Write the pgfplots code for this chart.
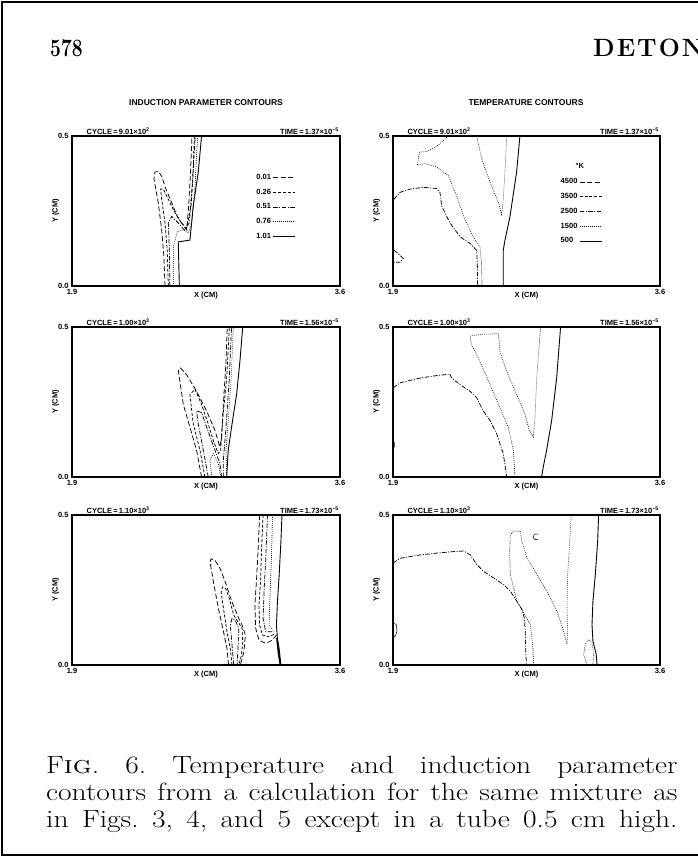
\documentclass[border=0pt]{standalone}
\usepackage{fontspec}
\usepackage{pgfplots}
\pgfplotsset{compat=1.18}
\newfontfamily\plotfont{Liberation Sans}
\newcommand{\pf}[1]{\plotfont\bfseries\fontsize{#1}{#1}\selectfont}
\pgfplotsset{
 panel/.style={
  scale only axis, width=268pt, height=150pt, anchor=south west,
  xmin=1.9, xmax=3.6, ymin=0, ymax=0.5,
  xtick={1.9,3.6}, xticklabels={1.9,3.6},
  ytick={0,0.5}, yticklabels={0.0,0.5},
  major tick length=0pt,
  axis line style={line width=1.2pt},
  tick label style={font=\pf{7.5}},
  xlabel={X (CM)}, ylabel={Y (CM)},
  label style={font=\pf{7.5}},
  xlabel style={at={(axis description cs:0.5,0)}, anchor=north, yshift=-3pt},
  ylabel style={at={(axis description cs:-0.035,0.5)}, anchor=south},
  clip=false,
  legend plot pos=right, legend cell align=left,
  legend image code/.code={\draw[##1] (0pt,0pt) -- (22pt,0pt);},
  legend style={draw=none, fill=none, inner sep=0pt, row sep=4pt, font=\pf{7.5}},
 },
 lA/.style={black, line width=0.75pt, dash pattern=on 5pt off 2.5pt},
 lB/.style={black, line width=0.75pt, dash pattern=on 3pt off 1.8pt},
 lC/.style={black, line width=0.75pt, dash pattern=on 4.5pt off 1.5pt on 1pt off 1.5pt},
 lD/.style={black, line width=0.6pt, dash pattern=on 0.8pt off 1.2pt},
 lE/.style={black, line width=0.9pt},
}
\begin{document}
\begin{tikzpicture}
\useasboundingbox (0pt,0pt) rectangle (698pt,857pt);
\begin{scope}
\clip (0pt,0pt) rectangle (698pt,857pt);
\fill[white] (0pt,0pt) rectangle (698pt,857pt);
\draw[line width=1.6pt] (698pt,855pt) -- (2pt,855pt) -- (2pt,2pt) -- (698pt,2pt);
\node[anchor=base west, inner sep=0pt, font=\bfseries\fontsize{25}{25}\selectfont] at (50pt,800pt) {\scalebox{0.77}[1]{578}};
\node[anchor=base west, inner sep=0pt, font=\bfseries\fontsize{25}{25}\selectfont] at (593pt,800pt) {D\kern2pt E\kern2pt T\kern2pt O\kern2pt N};
\node[font=\pf{8.5}] at (206pt,754pt) {INDUCTION PARAMETER CONTOURS};
\node[font=\pf{8.5}] at (526pt,754pt) {TEMPERATURE CONTOURS};

% ---------- Row 1 left ----------
\begin{axis}[panel, at={(72pt,571pt)},
  legend style={at={(0.68,0.76)}, anchor=north west}]
\addlegendimage{lA}\addlegendentry{0.01}
\addlegendimage{lB}\addlegendentry{0.26}
\addlegendimage{lC}\addlegendentry{0.51}
\addlegendimage{lD}\addlegendentry{0.76}
\addlegendimage{lE}\addlegendentry{1.01}
\addplot[lE, forget plot] coordinates {(2.722,0.5)(2.701,0.380)(2.669,0.266)(2.648,0.153)(2.574,0.147)(2.581,0)};
\addplot[lA, forget plot] coordinates {(2.490,0)(2.483,0.096)(2.469,0.187)(2.447,0.278)(2.420,0.357)(2.426,0.380)(2.447,0.382)(2.469,0.366)(2.496,0.323)(2.532,0.278)(2.568,0.232)(2.602,0.204)(2.627,0.187)(2.640,0.266)(2.652,0.380)(2.661,0.5)};
\addplot[lB, forget plot] coordinates {(2.511,0)(2.504,0.119)(2.490,0.210)(2.469,0.289)(2.462,0.323)(2.479,0.323)(2.511,0.289)(2.553,0.244)(2.595,0.210)(2.627,0.193)(2.655,0.266)(2.669,0.380)(2.676,0.5)};
\addplot[lC, forget plot] coordinates {(2.521,0)(2.517,0.130)(2.511,0.210)(2.532,0.232)(2.574,0.210)(2.612,0.187)(2.644,0.210)(2.661,0.323)(2.674,0.437)(2.682,0.5)};
\addplot[lD, forget plot] coordinates {(2.543,0)(2.543,0.130)(2.568,0.181)(2.606,0.187)(2.638,0.176)(2.659,0.210)(2.680,0.323)(2.690,0.437)(2.697,0.5)};
\node[anchor=south west, font=\pf{7.5}, inner sep=1pt] at (rel axis cs:0.05,1) {CYCLE\,=\,9.01×10\textsuperscript{2}};
\node[anchor=south east, font=\pf{7.5}, inner sep=1pt] at (rel axis cs:1,1) {TIME\,=\,1.37×10\textsuperscript{−5}};
\end{axis}

% ---------- Row 1 right ----------
\begin{axis}[panel, at={(393pt,571pt)}, width=267pt,
  legend style={at={(0.62,0.73)}, anchor=north west}]
\addlegendimage{lA}\addlegendentry{4500}
\addlegendimage{lB}\addlegendentry{3500}
\addlegendimage{lC}\addlegendentry{2500}
\addlegendimage{lD}\addlegendentry{1500}
\addlegendimage{lE}\addlegendentry{500}
\addplot[lE, forget plot] coordinates {(2.708,0.5)(2.687,0.380)(2.645,0.232)(2.613,0.153)(2.602,0.119)(2.602,0)};
\addplot[lC, forget plot] coordinates {(1.906,0.289)(1.944,0.312)(2.008,0.323)(2.093,0.329)(2.178,0.325)(2.199,0.312)(2.210,0.266)(2.263,0.210)(2.327,0.164)(2.390,0.142)(2.433,0.119)(2.437,0.074)(2.439,0)};
\addplot[lD, forget plot] coordinates {(2.252,0.5)(2.178,0.465)(2.114,0.448)(2.068,0.446)(2.055,0.402)(2.104,0.408)(2.178,0.397)(2.252,0.368)(2.305,0.300)(2.358,0.221)(2.411,0.164)(2.454,0.130)(2.464,0.074)(2.467,0)};
\addplot[lD, forget plot] coordinates {(2.433,0.5)(2.464,0.425)(2.518,0.346)(2.571,0.278)(2.592,0.238)(2.602,0.289)(2.613,0.380)(2.624,0.5)};
\addplot[lC, forget plot] coordinates {(1.906,0.119)(1.934,0.108)(1.966,0.091)(1.944,0.079)(1.906,0.079)};
\node[font=\pf{7.5}] at (rel axis cs:0.70,0.80) {°K};
\node[anchor=south west, font=\pf{7.5}, inner sep=1pt] at (rel axis cs:0.05,1) {CYCLE\,=\,9.01×10\textsuperscript{2}};
\node[anchor=south east, font=\pf{7.5}, inner sep=1pt] at (rel axis cs:1,1) {TIME\,=\,1.37×10\textsuperscript{−5}};
\end{axis}

% ---------- Row 2 left ----------
\begin{axis}[panel, at={(72pt,380pt)}]
\addplot[lE] coordinates {(2.983,0.5)(2.965,0.385)(2.944,0.275)(2.912,0.166)(2.891,0.089)(2.881,0)};
\addplot[lA] coordinates {(2.722,0)(2.690,0.089)(2.648,0.166)(2.606,0.242)(2.574,0.357)(2.589,0.363)(2.627,0.341)(2.690,0.286)(2.754,0.220)(2.807,0.155)(2.838,0.100)(2.849,0.133)(2.860,0.242)(2.877,0.385)(2.885,0.5)};
\addplot[lB] coordinates {(2.743,0)(2.712,0.089)(2.669,0.177)(2.648,0.275)(2.680,0.292)(2.722,0.242)(2.764,0.177)(2.796,0.122)(2.828,0.078)(2.843,0.089)(2.855,0.188)(2.881,0.330)(2.898,0.5)};
\addplot[lC] coordinates {(2.764,0)(2.733,0.089)(2.701,0.177)(2.690,0.220)(2.722,0.215)(2.754,0.166)(2.792,0.111)(2.838,0.045)(2.849,0)};
\addplot[lC] coordinates {(2.860,0)(2.860,0.056)(2.877,0.166)(2.898,0.330)(2.912,0.5)};
\addplot[lD] coordinates {(2.786,0)(2.775,0.056)(2.796,0.078)(2.828,0.045)(2.845,0)};
\addplot[lD] coordinates {(2.881,0)(2.877,0.089)(2.891,0.188)(2.910,0.330)(2.923,0.5)};
\node[anchor=south west, font=\pf{7.5}, inner sep=1pt] at (rel axis cs:0.05,1) {CYCLE\,=\,1.00×10\textsuperscript{3}};
\node[anchor=south east, font=\pf{7.5}, inner sep=1pt] at (rel axis cs:1,1) {TIME\,=\,1.56×10\textsuperscript{−5}};
\end{axis}

% ---------- Row 2 right ----------
\begin{axis}[panel, at={(393pt,380pt)}, width=267pt]
\addplot[lE] coordinates {(2.967,0.5)(2.942,0.330)(2.910,0.188)(2.878,0.089)(2.857,0.034)(2.846,0)};
\addplot[lC] coordinates {(1.9,0.297)(1.945,0.314)(2.072,0.330)(2.178,0.338)(2.263,0.343)(2.273,0.330)(2.327,0.308)(2.390,0.286)(2.433,0.264)(2.475,0.220)(2.518,0.188)(2.560,0.144)(2.581,0.111)(2.602,0.078)(2.624,0)};
\addplot[lD] coordinates {(2.677,0)(2.666,0.089)(2.634,0.166)(2.581,0.231)(2.518,0.308)(2.454,0.385)(2.401,0.440)(2.390,0.470)(2.454,0.475)(2.571,0.478)(2.581,0.418)(2.624,0.352)(2.687,0.275)(2.740,0.210)(2.768,0.155)(2.793,0.133)(2.804,0.199)(2.815,0.330)(2.829,0.429)(2.840,0.5)};
\addplot[lE, line width=0.5pt] coordinates {(1.9,0.122)(1.908,0.115)(1.908,0.100)(1.9,0.095)};
\node[anchor=south west, font=\pf{7.5}, inner sep=1pt] at (rel axis cs:0.05,1) {CYCLE\,=\,1.00×10\textsuperscript{3}};
\node[anchor=south east, font=\pf{7.5}, inner sep=1pt] at (rel axis cs:1,1) {TIME\,=\,1.56×10\textsuperscript{−5}};
\end{axis}

% ---------- Row 3 left ----------
\begin{axis}[panel, at={(72pt,192pt)}]
\addplot[lE] coordinates {(3.232,0.5)(3.225,0.409)(3.214,0.299)(3.203,0.210)(3.197,0.133)(3.203,0.088)(3.214,0.055)(3.225,0)};
\addplot[lA] coordinates {(3.090,0.5)(3.082,0.398)(3.071,0.288)(3.060,0.199)(3.065,0.122)(3.086,0.083)(3.129,0.072)(3.172,0.083)(3.197,0.100)};
\addplot[lB] coordinates {(3.112,0.5)(3.103,0.398)(3.097,0.288)(3.086,0.199)(3.090,0.133)(3.108,0.100)(3.150,0.094)(3.189,0.105)};
\addplot[lC] coordinates {(3.140,0.5)(3.129,0.354)(3.118,0.243)(3.112,0.155)(3.129,0.111)(3.182,0.111)};
\addplot[lD] coordinates {(3.172,0.5)(3.165,0.354)(3.155,0.221)(3.150,0.133)(3.172,0.116)};
\addplot[lA] coordinates {(2.893,0)(2.883,0.055)(2.861,0.111)(2.829,0.188)(2.797,0.277)(2.776,0.343)(2.782,0.354)(2.808,0.348)(2.840,0.321)(2.872,0.277)(2.915,0.210)(2.958,0.155)(2.979,0.133)(3.000,0.100)(2.990,0.044)(2.968,0)};
\addplot[lB] coordinates {(2.915,0)(2.904,0.055)(2.883,0.111)(2.861,0.188)(2.846,0.243)(2.855,0.260)(2.876,0.254)(2.898,0.221)(2.926,0.166)(2.953,0.144)(2.979,0.122)(2.983,0.077)(2.975,0.033)(2.958,0)};
\addplot[lC] coordinates {(2.926,0)(2.915,0.066)(2.904,0.133)(2.915,0.155)(2.936,0.149)(2.958,0.122)(2.953,0.055)(2.947,0)};
\addplot[lE, line width=1.6pt] coordinates {(3.200,0.09)(3.210,0.04)(3.222,0)};
\node[anchor=south west, font=\pf{7.5}, inner sep=1pt] at (rel axis cs:0.05,1) {CYCLE\,=\,1.10×10\textsuperscript{3}};
\node[anchor=south east, font=\pf{7.5}, inner sep=1pt] at (rel axis cs:1,1) {TIME\,=\,1.73×10\textsuperscript{−5}};
\end{axis}

% ---------- Row 3 right ----------
\begin{axis}[panel, at={(393pt,192pt)}, width=267pt]
\addplot[lE] coordinates {(3.209,0.5)(3.203,0.411)(3.188,0.301)(3.173,0.212)(3.167,0.135)(3.173,0.080)(3.194,0.035)(3.199,0)};
\addplot[lC] coordinates {(1.9,0.340)(1.947,0.356)(2.074,0.367)(2.180,0.373)(2.286,0.378)(2.350,0.380)(2.392,0.367)(2.435,0.334)(2.477,0.312)(2.541,0.290)(2.605,0.268)(2.647,0.246)(2.689,0.212)(2.721,0.185)(2.736,0.157)(2.742,0.113)(2.745,0.058)(2.749,0)};
\addplot[lD] coordinates {(2.795,0)(2.791,0.058)(2.774,0.135)(2.689,0.212)(2.647,0.301)(2.643,0.378)(2.647,0.434)(2.668,0.447)(2.711,0.445)(2.721,0.411)(2.753,0.356)(2.817,0.301)(2.880,0.246)(2.944,0.179)(2.986,0.113)(3.008,0.069)(3.012,0.113)(3.008,0.190)(3.012,0.301)(3.025,0.411)(3.035,0.5)};
\addplot[lE, line width=0.5pt] coordinates {(2.827,0.436)(2.800,0.436)(2.791,0.425)(2.806,0.417)(2.827,0.420)};
\addplot[lD] coordinates {(3.135,0)(3.114,0.035)(3.124,0.069)(3.146,0.085)(3.167,0.074)(3.177,0.035)(3.173,0)};
\addplot[lE, line width=0.5pt] coordinates {(1.9,0.140)(1.921,0.135)(1.925,0.113)(1.915,0.096)(1.9,0.091)};
\node[anchor=south west, font=\pf{7.5}, inner sep=1pt] at (rel axis cs:0.05,1) {CYCLE\,=\,1.10×10\textsuperscript{3}};
\node[anchor=south east, font=\pf{7.5}, inner sep=1pt] at (rel axis cs:1,1) {TIME\,=\,1.73×10\textsuperscript{−5}};
\end{axis}

\node[anchor=north west, inner sep=0pt] at (46pt,101pt) {\scalebox{1.18}[1]{\parbox{535pt}{\fontsize{25}{27}\selectfont\frenchspacing\parfillskip=0pt
F\textsc{ig}. 6. Temperature and induction parameter\linebreak
contours from a calculation for the same mixture as\linebreak
in Figs. 3, 4, and 5 except in a tube 0.5 cm high.}}};
\end{scope}
\end{tikzpicture}
\end{document}
